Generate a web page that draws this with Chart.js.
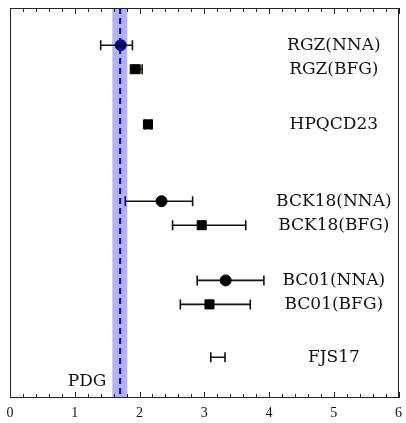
<!DOCTYPE html>
<html>
<head>
<meta charset="utf-8">
<script src="https://cdn.jsdelivr.net/npm/chart.js@4.4.1/dist/chart.umd.min.js"></script>
<style>
  html,body{margin:0;padding:0;background:#fff;overflow:hidden;}
  #wrap{position:relative;width:406px;height:423px;}
</style>
</head>
<body>
<div id="wrap"><canvas id="c"></canvas></div>
<script>
// results, one row each
const labels=['RGZ(NNA)','RGZ(BFG)','HPQCD23','BCK18(NNA)','BCK18(BFG)','BC01(NNA)','BC01(BFG)','FJS17'];
const rows=[1,2,4.3,7.5,8.5,10.8,11.8,14];
const central=[1.71,1.94,2.13,2.34,2.96,3.33,3.08,null];
const errLow=[1.40,1.86,2.08,1.78,2.51,2.89,2.63,3.10];
const errHigh=[1.89,2.04,2.19,2.82,3.64,3.92,3.71,3.32];
const markers=['circle','rect','rect','circle','rect','circle','rect',null];

// PDG band
const pdgCentral=1.70;
const pdgLow=1.58;
const pdgHigh=1.81;
const pdgRow=15;

const xTicks=[0,1,2,3,4,5,6];
const labelX=5.0;
const pdgLabelX=1.19;

const font='"Liberation Serif","DejaVu Serif",serif';
const labelFont='"DejaVu Serif","Liberation Serif",serif';

const datasets=[];
labels.forEach((name,i)=>{
  datasets.push({
    type:'line',
    data:[{x:errLow[i],y:rows[i]},{x:errHigh[i],y:rows[i]}],
    borderColor:'#111',borderWidth:1.6,
    pointStyle:'line',pointRotation:90,pointRadius:5,pointBorderWidth:1.6,
    pointBorderColor:'#111',pointHoverRadius:5,fill:false,order:2
  });
});
const circ=[],sq=[];
labels.forEach((name,i)=>{
  if(central[i]==null) return;
  (markers[i]==='circle'?circ:sq).push({x:central[i],y:rows[i]});
});
datasets.push({type:'scatter',data:circ,pointStyle:'circle',pointRadius:5.5,backgroundColor:'#000',borderColor:'#000',order:1});
datasets.push({type:'scatter',data:sq,pointStyle:'rect',pointRadius:6.4,backgroundColor:'#000',borderColor:'#000',order:1});

const decor={
  id:'decor',
  afterDatasetsDraw(chart){
    const {ctx,chartArea:a,scales:{x,y}}=chart;
    ctx.save();
    // band
    const x0=x.getPixelForValue(pdgLow),x1=x.getPixelForValue(pdgHigh);
    ctx.fillStyle='rgba(0,0,255,0.3)';
    ctx.fillRect(x0,a.top,x1-x0,a.bottom-a.top);
    // dashed central line
    const xc=x.getPixelForValue(pdgCentral);
    ctx.strokeStyle='#0000ff';ctx.lineWidth=2;ctx.setLineDash([6,4]);
    ctx.beginPath();ctx.moveTo(xc,a.top);ctx.lineTo(xc,a.bottom);ctx.stroke();
    ctx.setLineDash([]);
    // frame
    ctx.strokeStyle='#222';ctx.lineWidth=1;
    ctx.strokeRect(Math.round(a.left)+0.5,Math.round(a.top)+0.5,Math.round(a.right-a.left)-1,Math.round(a.bottom-a.top)-1);
    // inward ticks on top and bottom
    for(let v=0;v<=6.0001;v+=0.2){
      const px=Math.round(x.getPixelForValue(v))+0.5;
      const major=Math.abs(v-Math.round(v))<1e-6;
      const len=major?6:4;
      ctx.beginPath();
      ctx.moveTo(px,a.bottom);ctx.lineTo(px,a.bottom-len);
      ctx.moveTo(px,a.top);ctx.lineTo(px,a.top+len);
      ctx.stroke();
    }
    // tick labels
    ctx.fillStyle='#111';ctx.font='14px '+font;ctx.textAlign='center';ctx.textBaseline='middle';
    xTicks.forEach(v=>{
      ctx.fillText(String(v),x.getPixelForValue(v),a.bottom+15);
    });
    // row labels
    ctx.font='17px '+labelFont;
    labels.forEach((name,i)=>{
      ctx.fillText(name,x.getPixelForValue(labelX),y.getPixelForValue(rows[i]));
    });
    ctx.fillText('PDG',x.getPixelForValue(pdgLabelX),y.getPixelForValue(pdgRow));
    ctx.restore();
  }
};

new Chart(document.getElementById('c'),{
  data:{datasets},
  options:{
    responsive:true,maintainAspectRatio:false,animation:false,
    layout:{padding:{left:10,right:4,top:8,bottom:0}},
    plugins:{legend:{display:false},tooltip:{enabled:false}},
    scales:{
      x:{
        type:'linear',min:0,max:6,
        afterFit:(s)=>{s.height=25;},
        grid:{display:false,drawTicks:false},
        border:{display:false},
        ticks:{display:false}
      },
      y:{
        type:'linear',reverse:true,min:-0.55,max:15.7,display:false
      }
    }
  },
  plugins:[decor]
});
</script>
</body>
</html>
